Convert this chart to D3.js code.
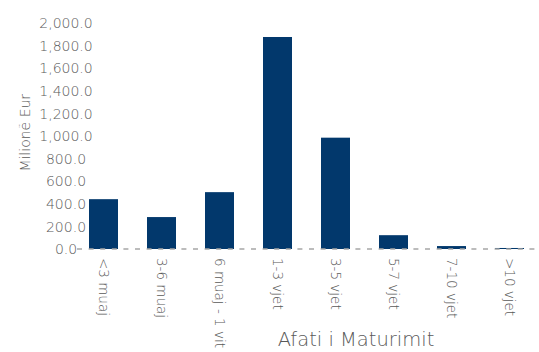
<!DOCTYPE html>
<html>
<head>
<meta charset="utf-8">
<script src="https://cdn.jsdelivr.net/npm/d3@7"></script>
<style>
  html, body { margin: 0; padding: 0; background: #fff; }
  svg text { font-family: "DejaVu Sans", sans-serif; font-weight: 200; fill: #595959; }
</style>
</head>
<body>
<svg id="chart" width="539" height="352"></svg>
<script>
// Maturity buckets and outstanding amounts (million EUR)
const categories = ["<3 muaj", "3-6 muaj", "6 muaj - 1 vit", "1-3 vjet", "3-5 vjet", "5-7 vjet", "7-10 vjet", ">10 vjet"];
const values = [440, 282, 502, 1872, 983, 122, 26, 9];
const yTicks = [0, 200, 400, 600, 800, 1000, 1200, 1400, 1600, 1800, 2000];
const yTitle = "Milionë Eur";
const xTitle = "Afati i Maturimit";

const svg = d3.select("#chart");
const plot = { left: 89, right: 524, top: 22.5, bottom: 249 };

const x = d3.scaleBand()
  .domain(categories)
  .range([plot.left, plot.right])
  .paddingInner(0.5)
  .paddingOuter(0);

const y = d3.scaleLinear().domain([0, 2000]).range([plot.bottom, plot.top]);
const fmt = d3.format(",.1f");

// Y axis labels, centred in their column
const yAxis = d3.axisLeft(y).tickValues(yTicks).tickSize(0).tickPadding(0).tickFormat(fmt);
const gy = svg.append("g").attr("transform", `translate(${plot.left},0)`).call(yAxis);
gy.select(".domain").remove();
gy.selectAll("text")
  .style("font-size", "14px")
  .attr("text-anchor", "middle")
  .attr("dy", "0.35em")
  .attr("x", -23);

// Bars
svg.append("g").selectAll("rect")
  .data(values)
  .join("rect")
  .attr("x", (d, i) => x(categories[i]))
  .attr("width", x.bandwidth())
  .attr("y", d => y(d))
  .attr("height", d => y(0) - y(d))
  .attr("fill", "#02386c");

// Dashed baseline
svg.append("line")
  .attr("x1", plot.left - 12).attr("x2", 539)
  .attr("y1", y(0)).attr("y2", y(0))
  .attr("stroke", "#a6a6a6")
  .attr("stroke-width", 1.5)
  .attr("stroke-dasharray", "5,6.6");

// Category labels, rotated to read top-down
const xAxis = d3.axisBottom(x).tickSize(0).tickPadding(0);
const gx = svg.append("g").attr("transform", `translate(0,${plot.bottom + 9})`).call(xAxis);
gx.select(".domain").remove();
gx.selectAll("text")
  .style("font-size", "13.5px")
  .attr("text-anchor", "start")
  .attr("x", 0)
  .attr("y", 0)
  .attr("dy", "0.35em")
  .attr("transform", "rotate(90)");

// Axis titles
svg.append("text")
  .attr("transform", `translate(30,${(plot.top + plot.bottom) / 2 - 3}) rotate(-90)`)
  .attr("text-anchor", "middle")
  .style("font-size", "14px")
  .text(yTitle);

svg.append("text")
  .attr("x", 356).attr("y", 346)
  .attr("text-anchor", "middle")
  .style("font-size", "19.5px")
  .text(xTitle);
</script>
</body>
</html>
